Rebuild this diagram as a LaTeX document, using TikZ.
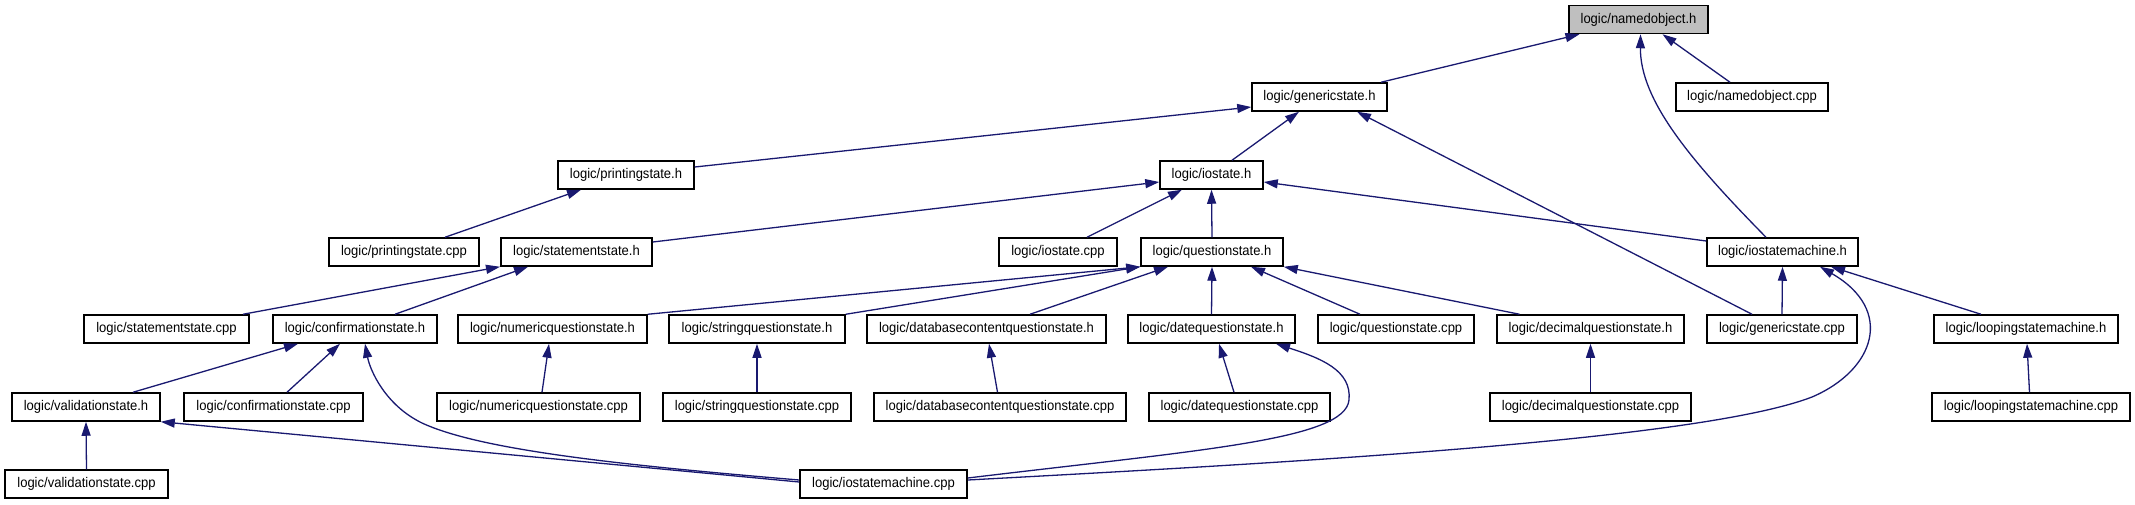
\documentclass[tikz,border=0pt]{standalone}
\usepackage{fontspec}
\setmainfont{Liberation Sans}[FakeStretch=0.93]
\usetikzlibrary{arrows.meta}
\definecolor{edgeblue}{RGB}{25,25,112}
\definecolor{rootgrey}{RGB}{191,191,191}
\begin{document}
\begin{tikzpicture}[x=1pt,y=-1pt,
  box/.style={draw=black, line width=1.5pt, minimum height=28pt, inner sep=0pt,
    font=\fontsize{14}{16}\selectfont, anchor=center},
  rootbox/.style={box, fill=rootgrey},
  edge/.style={draw=edgeblue, line width=1.3pt, -{Triangle[length=14pt,width=9pt]}},
]
\useasboundingbox (0,0) rectangle (2135,504);
% row 0
\node[rootbox, minimum width=139pt] (nob) at (1638.5,19.5) {logic/namedobject.h};
% row 1
\node[box, minimum width=135pt] (gsh) at (1319.5,97) {logic/genericstate.h};
\node[box, minimum width=152pt] (nocpp) at (1752,97) {logic/namedobject.cpp};
% row 2
\node[box, minimum width=136pt] (psh) at (626,175) {logic/printingstate.h};
\node[box, minimum width=103pt] (ish) at (1211.5,175) {logic/iostate.h};
% row 3
\node[box, minimum width=150pt] (pscpp) at (404,252) {logic/printingstate.cpp};
\node[box, minimum width=151pt] (ssh) at (576.5,252) {logic/statementstate.h};
\node[box, minimum width=118pt] (iscpp) at (1058,252) {logic/iostate.cpp};
\node[box, minimum width=142pt] (qsh) at (1212,252) {logic/questionstate.h};
\node[box, minimum width=151pt] (ismh) at (1782.5,252) {logic/iostatemachine.h};
% row 4
\node[box, minimum width=165pt] (sscpp) at (166.5,329) {logic/statementstate.cpp};
\node[box, minimum width=164pt] (csh) at (355,329) {logic/confirmationstate.h};
\node[box, minimum width=189pt] (nqh) at (552.5,329) {logic/numericquestionstate.h};
\node[box, minimum width=176pt] (sqh) at (757,329) {logic/stringquestionstate.h};
\node[box, minimum width=239pt] (dcqh) at (986.5,329) {logic/databasecontentquestionstate.h};
\node[box, minimum width=167pt] (dqh) at (1211.5,329) {logic/datequestionstate.h};
\node[box, minimum width=156pt] (qscpp) at (1396,329) {logic/questionstate.cpp};
\node[box, minimum width=187pt] (decqh) at (1590.5,329) {logic/decimalquestionstate.h};
\node[box, minimum width=150pt] (gscpp) at (1782,329) {logic/genericstate.cpp};
\node[box, minimum width=184pt] (lsmh) at (2026,329) {logic/loopingstatemachine.h};
% row 5
\node[box, minimum width=148pt] (vsh) at (86,407) {logic/validationstate.h};
\node[box, minimum width=179pt] (cscpp) at (273.5,407) {logic/confirmationstate.cpp};
\node[box, minimum width=203pt] (nqcpp) at (538.5,407) {logic/numericquestionstate.cpp};
\node[box, minimum width=188pt] (sqcpp) at (757,407) {logic/stringquestionstate.cpp};
\node[box, minimum width=252pt] (dcqcpp) at (1000,407) {logic/databasecontentquestionstate.cpp};
\node[box, minimum width=181pt] (dqcpp) at (1239.5,407) {logic/datequestionstate.cpp};
\node[box, minimum width=201pt] (decqcpp) at (1590.5,407) {logic/decimalquestionstate.cpp};
\node[box, minimum width=198pt] (lsmcpp) at (2031,407) {logic/loopingstatemachine.cpp};
% row 6
\node[box, minimum width=163pt] (vscpp) at (86.5,484) {logic/validationstate.cpp};
\node[box, minimum width=167pt] (ismcpp) at (883.5,484) {logic/iostatemachine.cpp};

% edges
\draw[edge] ([xshift=61.5pt]gsh.north) -- ([xshift=-59pt]nob.south);
\draw[edge] ([xshift=-22pt]nocpp.north) -- ([xshift=24pt]nob.south);
\draw[edge] ([xshift=-16.5pt]ismh.north) .. controls (1690,160) and (1640,100) .. ([xshift=2pt]nob.south);
\draw[edge] ([yshift=8pt]psh.east) -- ([yshift=-10pt]gsh.west);
\draw[edge] ([xshift=20.5pt]ish.north) -- ([xshift=-20.5pt]gsh.south);
\draw[edge] ([xshift=-30pt]gscpp.north) -- ([xshift=37.5pt]gsh.south);
\draw[edge] ([xshift=41pt]pscpp.north) -- ([xshift=-45pt]psh.south);
\draw[edge] ([yshift=10pt]ssh.east) -- ([yshift=-7pt]ish.west);
\draw[edge] ([xshift=29pt]iscpp.north) -- ([xshift=-29.5pt]ish.south);
\draw[edge] (qsh.north) -- (ish.south);
\draw[edge] ([yshift=11pt]ismh.west) -- ([yshift=-7pt]ish.east);
\draw[edge] ([xshift=76.5pt]sscpp.north) -- ([xshift=-76.5pt]ssh.south);
\draw[edge] ([xshift=40pt]csh.north) -- ([xshift=-48.5pt]ssh.south);
\draw[edge] (nqh.north east) -- (qsh.south west);
\draw[edge] (sqh.north east) -- (qsh.south west);
\draw[edge] ([xshift=43.5pt]dcqh.north) -- ([xshift=-44pt]qsh.south);
\draw[edge] (dqh.north) -- (qsh.south);
\draw[edge] ([xshift=-36pt]qscpp.north) -- ([xshift=39pt]qsh.south);
\draw[edge] ([xshift=-71pt]decqh.north) -- (qsh.south east);
\draw[edge] (gscpp.north) -- (ismh.south);
\draw[edge] ([xshift=-45pt]lsmh.north) -- ([xshift=48.5pt]ismh.south);
\draw[edge] ([yshift=4pt]ismcpp.east) .. controls (1300,462) and (1700,440) .. (1812,397)
  .. controls (1875,370) and (1895,310) .. ([xshift=37.5pt]ismh.south);
\draw[edge] ([xshift=47pt]vsh.north) -- ([xshift=-57pt]csh.south);
\draw[edge] ([xshift=13.5pt]cscpp.north) -- ([xshift=-15pt]csh.south);
\draw[edge] ([yshift=4pt]ismcpp.west) .. controls (620,465) and (480,450) .. (422,423)
  .. controls (385,405) and (370,370) .. ([xshift=10pt]csh.south);
\draw[edge] ([xshift=3.5pt]nqcpp.north) -- ([xshift=-3.5pt]nqh.south);
\draw[edge] (sqcpp.north) -- (sqh.south);
\draw[edge] ([xshift=-2.5pt]dcqcpp.north) -- ([xshift=2.5pt]dcqh.south);
\draw[edge] ([xshift=-5.5pt]dqcpp.north) -- ([xshift=7.5pt]dqh.south);
\draw[edge] ([yshift=6pt]ismcpp.east) .. controls (1200,450) and (1345,440) .. (1349,400)
  .. controls (1352,370) and (1320,358) .. ([xshift=64.5pt]dqh.south);
\draw[edge] (decqcpp.north) -- (decqh.south);
\draw[edge] ([xshift=-1.5pt]lsmcpp.north) -- ([xshift=1pt]lsmh.south);
\draw[edge] (vscpp.north) -- (vsh.south);
\draw[edge] ([yshift=2pt]ismcpp.west) -- (vsh.south east);
\end{tikzpicture}
\end{document}
